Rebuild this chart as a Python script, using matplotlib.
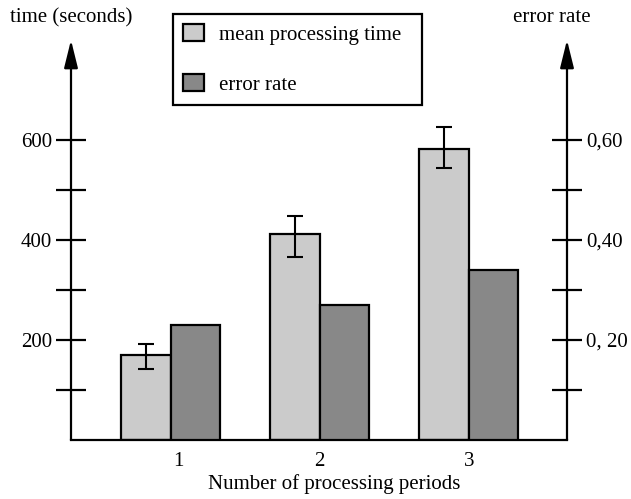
import matplotlib
matplotlib.use("Agg")
import matplotlib.pyplot as plt
import matplotlib.transforms as mtransforms
import numpy as np

periods = [1, 2, 3]
period_labels = ["1", "2", "3"]
mean_time = [170, 413, 583]
time_err_low = [28, 46, 38]
time_err_high = [22, 36, 43]
error_rate = [0.23, 0.27, 0.34]

left_ticks = [100, 200, 300, 400, 500, 600]
left_labels = ["", "200", "", "400", "", "600"]
right_ticks = [0.1, 0.2, 0.3, 0.4, 0.5, 0.6]
right_labels = ["", "0, 20", "", "0,40", "", "0,60"]

plt.rcParams['font.family'] = ['Liberation Serif', 'DejaVu Serif']
FS = 15
W, H = 631, 499
fig = plt.figure(figsize=(W / 100, H / 100), dpi=100)
ax = fig.add_axes([71 / W, 1 - 440 / H, (567 - 71) / W, (440 - 40) / H])

x = np.array(periods, dtype=float)
bw = 0.333
light = "#cbcbcb"
dark = "#888888"

b1 = ax.bar(x - bw / 2, mean_time, bw, color=light, edgecolor="black", linewidth=1.6,
            label="mean processing time", zorder=2)
ax.errorbar(x - bw / 2, mean_time, yerr=[time_err_low, time_err_high], fmt="none",
            ecolor="black", elinewidth=1.5, capsize=6, capthick=1.5, zorder=3)

ax.set_xlim(0.33, 3.66)
ax.set_ylim(0, 800)

ax2 = ax.twinx()
ax2.set_ylim(0, 0.8)
b2 = ax2.bar(x + bw / 2, error_rate, bw, color=dark, edgecolor="black", linewidth=1.6,
             label="error rate", zorder=2)

for a in (ax, ax2):
    for s in ("left", "right", "top"):
        a.spines[s].set_visible(False)
ax2.spines["bottom"].set_visible(False)
ax.spines["bottom"].set_linewidth(1.6)

ax.set_yticks(left_ticks)
ax.set_yticklabels(left_labels, fontsize=FS)
ax.tick_params(axis="y", direction="inout", length=21, width=1.6, pad=3)
ax2.set_yticks(right_ticks)
ax2.set_yticklabels(right_labels, fontsize=FS)
ax2.tick_params(axis="y", direction="inout", length=21, width=1.6, pad=3)

ax.set_xticks(x)
ax.set_xticklabels(period_labels, fontsize=FS)
ax.tick_params(axis="x", length=0, pad=9)
first = ax.get_xticklabels()[0]
first.set_transform(first.get_transform() +
                    mtransforms.ScaledTranslation(8 / 100, 0, fig.dpi_scale_trans))
ax.set_xlabel("Number of processing periods", fontsize=FS)
ax.xaxis.set_label_coords((334 - 71) / 496, -34 / 400)

arrow = dict(arrowstyle="-|>,head_length=1.7,head_width=0.42", color="black",
             lw=1.6, mutation_scale=10, shrinkA=0, shrinkB=0)
ax.annotate("", xy=(0, 1), xytext=(0, 0), xycoords="axes fraction",
            textcoords="axes fraction", arrowprops=arrow, annotation_clip=False)
ax.annotate("", xy=(1, 1), xytext=(1, 0), xycoords="axes fraction",
            textcoords="axes fraction", arrowprops=arrow, annotation_clip=False)

fig.text(71 / W, 1 - 18 / H, "time (seconds)", ha="center", va="center", fontsize=FS)
fig.text(552 / W, 1 - 18 / H, "error rate", ha="center", va="center", fontsize=FS)

leg = fig.legend(handles=[b1, b2], loc="upper left",
                 bbox_to_anchor=(173 / W, 1 - 14 / H - 0.01, (422 - 173) / W, 0.01),
                 mode="expand", fontsize=FS, frameon=True, fancybox=False,
                 edgecolor="black", framealpha=1, handlelength=1.0, handleheight=0.9,
                 handletextpad=0.75, labelspacing=1.4, borderpad=0.48,
                 borderaxespad=0)
leg.get_frame().set_linewidth(1.6)

fig.savefig("out.png", dpi=100)
